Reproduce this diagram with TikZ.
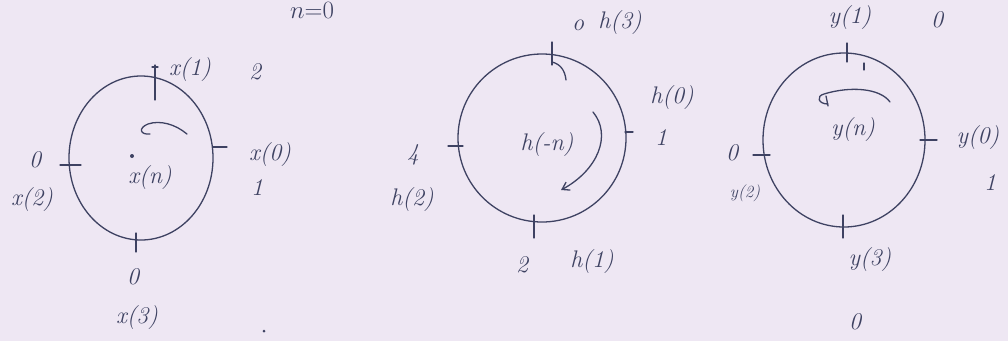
\documentclass[tikz,border=0pt]{standalone}
\usetikzlibrary{arrows.meta}
\definecolor{paper}{HTML}{EEE7F3}
\definecolor{ink}{HTML}{3E4262}
\begin{document}
\begin{tikzpicture}[x=1pt,y=-1pt,
  inkline/.style={draw=ink,line width=1.3pt,line cap=round},
  lab/.style={text=ink,font=\fontsize{24}{28}\selectfont\itshape,inner sep=0pt},
  smalllab/.style={text=ink,font=\fontsize{17}{20}\selectfont\itshape,inner sep=0pt}]
\fill[paper] (0,0) rectangle (1008,341);
\useasboundingbox (0,0) rectangle (1008,341);
% top text
\node[lab] (nzero) at (312,10) {$n{=}0$};
% ---------- circle x ----------
\draw[inkline] (141,158) ellipse[x radius=72,y radius=82];
\draw[inkline] (155,65) -- (155,100);
\draw[inkline] (152,67) -- (158,67);
\draw[inkline] (213,147) -- (227,147);
\draw[inkline] (60,165) -- (81,165);
\draw[inkline] (136,233) -- (136,252);
\node[lab] (x1) at (190,70) {x(1)};
\node[lab] (x1v) at (255,72) {2};
\node[lab] (x0) at (270,155) {x(0)};
\node[lab] (x0v) at (257,188) {1};
\node[lab] (x2v) at (35,160) {0};
\node[lab] (x2) at (32,200) {x(2)};
\node[lab] (x3v) at (133,277) {0};
\node[lab] (x3) at (137,318) {x(3)};
\fill[ink] (132,156) circle (2pt);
\node[lab] (xn) at (150,178) {x(n)};
\draw[inkline] (187,134) .. controls (175,124) and (160,120) .. (148,124)
  .. controls (138,128) and (140,135) .. (150,134);
\fill[ink] (264,331) circle (1.5pt);
% ---------- circle h ----------
\draw[inkline] (542,138) circle (84);
\draw[inkline] (552,42) -- (552,65);
\draw[inkline] (552,62) .. controls (560,64) and (565,70) .. (566,80);
\draw[inkline] (625,132) -- (633,132);
\draw[inkline] (448,146) -- (463,146);
\draw[inkline] (534,215) -- (534,238);
\node[lab] (h3v) at (578,25) {o};
\node[lab] (h3) at (620,23) {h(3)};
\node[lab] (h0) at (672,98) {h(0)};
\node[lab] (h0v) at (661,138) {1};
\node[lab] (h2v) at (413,155) {4};
\node[lab] (h2) at (412,200) {h(2)};
\node[lab] (h1v) at (522,265) {2};
\node[lab] (h1) at (592,262) {h(1)};
\node[lab] (hn) at (547,145) {h(-n)};
\draw[inkline,-{Straight Barb[length=7pt,width=9pt]}] (593,112) .. controls (612,135) and (598,170) .. (561,190);
% ---------- circle y ----------
\draw[inkline] (844,140) ellipse[x radius=81,y radius=87];
\draw[inkline] (847,43) -- (847,62);
\draw[inkline] (864,63) -- (864,70);
\draw[inkline] (920,140) -- (937,140);
\draw[inkline] (753,155) -- (770,155);
\draw[inkline] (843,215) -- (843,238);
\node[lab] (y1) at (850,18) {y(1)};
\node[lab] (y1v) at (937,20) {0};
\node[lab] (y0) at (978,138) {y(0)};
\node[lab] (y0v) at (990,183) {1};
\node[lab] (y2v) at (732,153) {0};
\node[smalllab] (y2) at (745,193) {y(2)};
\node[lab] (y3) at (870,260) {y(3)};
\node[lab] (y3v) at (855,322) {0};
\node[lab] (yn) at (853,130) {y(n)};
\draw[inkline] (828,104) .. controls (818,104) and (816,96) .. (824,94)
  .. controls (850,86) and (880,88) .. (890,102);
\draw[inkline] (826,96) -- (828,106);
\end{tikzpicture}
\end{document}
